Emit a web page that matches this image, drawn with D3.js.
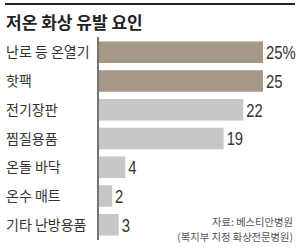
<!DOCTYPE html>
<html>
<head>
<meta charset="utf-8">
<script src="https://cdn.jsdelivr.net/npm/d3@7"></script>
<style>
  body { margin: 0; background: #fff; }
  svg { display: block; }
</style>
</head>
<body>
<div id="chart"></div>
<script>
var title = "저온 화상 유발 요인";
var categories = ["난로 등 온열기", "핫팩", "전기장판", "찜질용품", "온돌 바닥", "온수 매트", "기타 난방용품"];
var values = [25, 25, 22, 19, 4, 2, 3];
var valueLabels = ["25%", "25", "22", "19", "4", "2", "3"];
var highlighted = [true, true, false, false, false, false, false];
var sourceLines = ["자료: 베스티안병원", "(복지부 지정 화상전문병원)"];

var w = 300,
    h = 249;

var svg = d3.select("#chart")
            .append("svg")
            .attr("width", w)
            .attr("height", h);

// top rule + title
svg.append("line")
   .attr("x1", 5).attr("x2", 295)
   .attr("y1", 4).attr("y2", 4)
   .style("stroke", "#222")
   .style("stroke-width", 2);

svg.append("text")
   .attr("x", 6)
   .attr("y", 29)
   .text(title)
   .style("font-family", "'Noto Sans CJK KR', sans-serif")
   .style("font-weight", "bold")
   .style("font-size", "17px")
   .style("fill", "#222");

var x = d3.scaleLinear()
          .domain([0, 25])
          .range([99, 263]);

var y = d3.scaleBand()
          .domain(categories)
          .range([38, 239])
          .paddingInner(0.25)
          .paddingOuter(0.12);

svg.selectAll("rect.bar")
   .data(values)
   .enter()
   .append("rect")
   .attr("class", "bar")
   .attr("x", x(0))
   .attr("y", function(d, i) { return y(categories[i]); })
   .attr("width", function(d) { return x(d) - x(0); })
   .attr("height", y.bandwidth())
   .style("fill", function(d, i) { return highlighted[i] ? "#a69886" : "#c6c7c9"; });

// axis line
svg.append("line")
   .attr("x1", 98).attr("x2", 98)
   .attr("y1", 37).attr("y2", 240)
   .style("stroke", "#444")
   .style("stroke-width", 1.5);

svg.selectAll("text.cat")
   .data(categories)
   .enter()
   .append("text")
   .attr("class", "cat")
   .attr("x", 6)
   .attr("y", function(d) { return y(d) + y.bandwidth() / 2; })
   .attr("dy", "0.36em")
   .text(function(d) { return d; })
   .style("font-family", "'Noto Sans CJK KR', sans-serif")
   .style("font-size", "14px")
   .style("fill", "#333");

// condensed-looking numbers: squeeze horizontally
svg.selectAll("text.val")
   .data(values)
   .enter()
   .append("text")
   .attr("class", "val")
   .attr("transform", function(d, i) {
       return "translate(" + (x(d) + 3) + "," + (y(categories[i]) + y.bandwidth() / 2) + ") scale(0.78,1)";
   })
   .attr("dy", "0.36em")
   .text(function(d, i) { return valueLabels[i]; })
   .style("font-family", "'Liberation Sans', sans-serif")
   .style("font-size", "19px")
   .style("fill", "#333");

svg.selectAll("text.src")
   .data(sourceLines)
   .enter()
   .append("text")
   .attr("class", "src")
   .attr("x", 293)
   .attr("y", function(d, i) { return 226 + i * 15; })
   .attr("text-anchor", "end")
   .text(function(d) { return d; })
   .style("font-family", "'Noto Sans CJK KR', sans-serif")
   .style("font-size", "10.3px")
   .style("fill", "#555");
</script>
</body>
</html>
